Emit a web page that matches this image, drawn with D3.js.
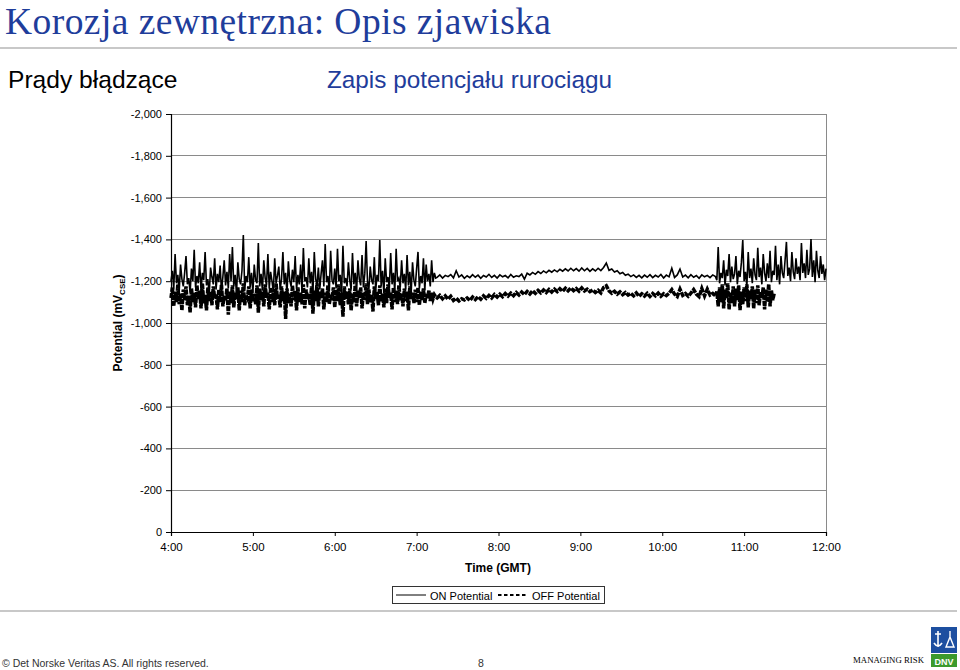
<!DOCTYPE html>
<html><head><meta charset="utf-8">
<script src="https://cdn.jsdelivr.net/npm/d3@7"></script>
<style>
html,body{margin:0;padding:0;background:#fff;}
svg{display:block;}
</style></head>
<body>
<svg id="c" width="960" height="670"></svg>
<script>
// ---------- DATA ----------
const titleText = "Korozja zewnętrzna: Opis zjawiska";
const leftSubtitle = "Prądy błądzące";
const rightSubtitle = "Zapis potencjału rurociągu";
const xTickLabels = ["4:00","5:00","6:00","7:00","8:00","9:00","10:00","11:00","12:00"];
const yTickValues = [0,-200,-400,-600,-800,-1000,-1200,-1400,-1600,-1800,-2000];
const seriesNames = ["ON Potential","OFF Potential"];

// ON potential (mV CSE); minutes after 4:00
const onNoisyAStart = 0, onNoisyAStep = 1;
const onNoisyA = [
-1200,-1250,-1160,-1330,-1190,-1230,-1150,-1280,-1210,-1175,
-1240,-1320,-1185,-1215,-1145,-1260,-1200,-1350,-1170,-1225,
-1190,-1290,-1155,-1240,-1205,-1340,-1180,-1210,-1135,-1265,
-1220,-1185,-1310,-1160,-1235,-1195,-1275,-1150,-1220,-1300,
-1180,-1245,-1165,-1330,-1200,-1364,-1175,-1230,-1140,-1290,
-1210,-1185,-1250,-1421,-1160,-1225,-1195,-1315,-1170,-1240,
-1145,-1280,-1205,-1190,-1383,-1175,-1235,-1155,-1300,-1215,
-1180,-1330,-1165,-1245,-1200,-1150,-1310,-1190,-1225,-1270,
-1160,-1210,-1340,-1185,-1240,-1140,-1295,-1205,-1175,-1255,
-1195,-1320,-1160,-1230,-1185,-1280,-1150,-1359,-1200,-1220,
-1170,-1310,-1190,-1245,-1145,-1340,-1210,-1180,-1265,-1160,
-1235,-1300,-1175,-1378,-1195,-1225,-1150,-1345,-1205,-1185,
-1260,-1165,-1355,-1200,-1230,-1140,-1370,-1190,-1215,-1175,
-1290,-1205,-1160,-1335,-1185,-1240,-1150,-1300,-1210,-1180,
-1325,-1170,-1235,-1392,-1195,-1160,-1270,-1205,-1185,-1315,
-1155,-1230,-1200,-1397,-1175,-1250,-1140,-1310,-1195,-1220,
-1165,-1335,-1185,-1240,-1150,-1355,-1200,-1215,-1170,-1300,
-1190,-1235,-1160,-1325,-1180,-1245,-1145,-1290,-1205,-1175,
-1260,-1340,-1165,-1225,-1190,-1310,-1155,-1280,-1200,-1235,
-1175,-1300,-1195,-1240,-1215
];
const onSteadyStart = 195, onSteadyStep = 2;
const onSteady = [
-1218,-1230,-1215,-1228,-1222,-1232,-1216,-1250,-1220,-1230,-1214,
-1226,-1217,-1231,-1219,-1229,-1214,-1227,-1220,-1233,-1218,-1228,-1215,-1230,-1221,-1227,-1216,-1232,-1219,-1226,-1222,
-1234,-1210,-1238,-1230,-1242,-1233,-1246,-1237,-1249,-1240,-1252,-1243,-1254,-1245,-1257,-1248,-1259,-1249,-1262,-1250,
-1260,-1248,-1263,-1250,-1261,-1247,-1259,-1249,-1262,-1251,-1266,-1287,-1252,-1258,-1244,-1250,-1236,-1242,-1228,-1234,
-1222,-1230,-1218,-1228,-1216,-1229,-1219,-1231,-1217,-1228,-1220,-1232,-1215,-1229,-1221,-1262,-1218,-1230,-1258,-1220,
-1229,-1216,-1231,-1219,-1227,-1214,-1230,-1221,-1228,-1217,-1230,-1222
];
const onNoisyBStart = 400, onNoisyBStep = 1;
const onNoisyB = [
-1205,-1364,-1190,-1240,-1215,-1300,-1180,-1255,-1225,-1330,
-1195,-1270,-1210,-1235,-1320,-1185,-1250,-1220,-1290,-1397,
-1200,-1245,-1175,-1340,-1215,-1260,-1190,-1310,-1230,-1205,
-1360,-1220,-1265,-1185,-1330,-1240,-1200,-1285,-1215,-1345,
-1195,-1250,-1230,-1370,-1205,-1280,-1185,-1320,-1240,-1215,
-1300,-1388,-1225,-1265,-1200,-1340,-1245,-1210,-1310,-1235,
-1270,-1205,-1383,-1240,-1285,-1215,-1350,-1230,-1260,-1402,
-1220,-1300,-1195,-1345,-1250,-1215,-1320,-1235,-1280,-1205,-1260
];

// OFF potential (mV CSE); minutes after 4:00
const offNoisyAStart = 0, offNoisyAStep = 1;
const offNoisyA = [
-1120,-1170,-1080,-1150,-1100,-1185,-1090,-1140,-1060,-1160,
-1110,-1175,-1085,-1130,-1050,-1165,-1100,-1145,-1075,-1180,
-1115,-1155,-1070,-1190,-1095,-1135,-1060,-1170,-1105,-1150,
-1085,-1175,-1120,-1140,-1065,-1160,-1100,-1185,-1080,-1130,
-1110,-1165,-1040,-1150,-1095,-1180,-1075,-1145,-1115,-1170,
-1060,-1155,-1100,-1190,-1085,-1135,-1120,-1175,-1070,-1160,
-1105,-1140,-1090,-1180,-1050,-1165,-1110,-1150,-1080,-1185,
-1120,-1145,-1065,-1170,-1100,-1160,-1085,-1190,-1115,-1135,
-1075,-1175,-1105,-1150,-1020,-1165,-1095,-1140,-1080,-1180,
-1110,-1155,-1060,-1170,-1100,-1145,-1090,-1185,-1070,-1160,
-1115,-1140,-1085,-1175,-1045,-1155,-1105,-1190,-1080,-1150,
-1120,-1165,-1065,-1145,-1100,-1180,-1090,-1135,-1110,-1170,
-1075,-1160,-1105,-1185,-1085,-1145,-1030,-1175,-1115,-1150,
-1090,-1165,-1060,-1140,-1100,-1180,-1080,-1155,-1120,-1170,
-1070,-1145,-1110,-1190,-1090,-1160,-1100,-1135,-1055,-1175,
-1115,-1150,-1085,-1180,-1105,-1140,-1075,-1165,-1095,-1185,
-1120,-1145,-1065,-1170,-1100,-1155,-1090,-1180,-1110,-1140,
-1080,-1165,-1105,-1150,-1060,-1175,-1115,-1145,-1095,-1160,
-1100,-1170,-1085,-1150,-1110,-1165,-1095,-1140,-1120,-1155,
-1105,-1145,-1115,-1135,-1125
];
const offSteadyStart = 195, offSteadyStep = 2;
const offSteady = [
-1120,-1132,-1116,-1130,-1114,-1128,-1108,-1118,-1106,-1116,-1110,
-1120,-1108,-1124,-1112,-1126,-1114,-1130,-1118,-1132,-1120,-1136,-1124,-1138,-1126,-1141,-1129,-1143,-1131,-1146,-1134,
-1148,-1136,-1151,-1139,-1154,-1142,-1156,-1144,-1158,-1146,-1160,-1148,-1162,-1150,-1164,-1152,-1166,-1154,-1167,-1155,
-1165,-1152,-1168,-1153,-1162,-1150,-1158,-1146,-1156,-1144,-1170,-1178,-1154,-1142,-1152,-1138,-1149,-1136,-1146,-1134,
-1142,-1130,-1144,-1128,-1140,-1129,-1142,-1127,-1141,-1130,-1143,-1128,-1140,-1131,-1142,-1160,-1138,-1127,-1162,-1132,
-1141,-1128,-1143,-1160,-1138,-1126,-1165,-1130,-1162,-1134,-1142,-1130
];
const offNoisyBStart = 400, offNoisyBStep = 1;
const offNoisyB = [
-1150,-1080,-1170,-1100,-1185,-1070,-1160,-1120,-1190,-1065,
-1145,-1095,-1175,-1080,-1165,-1110,-1180,-1062,-1150,-1090,
-1170,-1105,-1185,-1075,-1155,-1115,-1175,-1070,-1160,-1095,
-1180,-1085,-1150,-1120,-1170,-1065,-1160,-1100,-1185,-1080,
-1155,-1110,-1140
];

// ---------- BUILD ----------
function seg(start, step, vals){ return vals.map((v,i)=>({t:start+i*step, v:v})); }
const onData = [].concat(seg(onNoisyAStart,onNoisyAStep,onNoisyA), seg(onSteadyStart,onSteadyStep,onSteady), seg(onNoisyBStart,onNoisyBStep,onNoisyB));
const offData = [].concat(seg(offNoisyAStart,offNoisyAStep,offNoisyA), seg(offSteadyStart,offSteadyStep,offSteady), seg(offNoisyBStart,offNoisyBStep,offNoisyB));

const svg = d3.select("#c");
const L=171, R=826, T=114, B=532;
const x = d3.scaleLinear().domain([0,480]).range([L,R]);
const y = d3.scaleLinear().domain([0,-2000]).range([B,T]);
const sans = "'Liberation Sans', Arial, sans-serif";
const serif = "'Liberation Serif', 'Times New Roman', serif";

// title
svg.append("text").attr("x",5).attr("y",34).attr("font-family",serif).attr("font-size",37.5)
  .attr("textLength",546).attr("lengthAdjust","spacing")
  .attr("fill","#1f3d9b").text(titleText);
svg.append("rect").attr("x",0).attr("y",47).attr("width",957).attr("height",2).attr("fill","#c8c8c8");
svg.append("text").attr("x",8).attr("y",88).attr("font-family",sans).attr("font-size",24.6)
  .attr("fill","#000").text(leftSubtitle);
svg.append("text").attr("x",327).attr("y",88).attr("font-family",sans).attr("font-size",24.3)
  .attr("fill","#1f3d9b").text(rightSubtitle);

// grid
const g = svg.append("g");
g.selectAll("line.grid").data(yTickValues.filter(d=>d!==0)).join("line")
  .attr("x1",L).attr("x2",R).attr("y1",d=>y(d)).attr("y2",d=>y(d))
  .attr("stroke","#8a8a8a").attr("stroke-width",1).attr("shape-rendering","crispEdges");
g.append("line").attr("x1",R).attr("x2",R).attr("y1",T).attr("y2",B)
  .attr("stroke","#8a8a8a").attr("stroke-width",1).attr("shape-rendering","crispEdges");

// lines
const line = d3.line().x(d=>x(d.t)).y(d=>y(d.v));
g.append("path").datum(offData).attr("d",line).attr("fill","none").attr("stroke","#000")
  .attr("stroke-width",3.5).attr("stroke-dasharray","5,1");
g.append("path").datum(onData).attr("d",line).attr("fill","none").attr("stroke","#000")
  .attr("stroke-width",1.6);

// axes
const fmt = d => d3.format(",")(d).replace("\u2212","-");
const yAxis = g.append("g").attr("transform",`translate(${L},0)`)
  .call(d3.axisLeft(y).tickValues(yTickValues).tickFormat(fmt).tickSize(5).tickPadding(4));
const xAxis = g.append("g").attr("transform",`translate(0,${B})`)
  .call(d3.axisBottom(x).tickValues(d3.range(0,481,60)).tickFormat((d,i)=>xTickLabels[i]).tickSize(4).tickPadding(7));
[yAxis,xAxis].forEach(a=>{
  a.select(".domain").attr("stroke","#000").attr("stroke-width",1.2);
  a.selectAll(".tick line").attr("stroke","#000");
  a.selectAll("text").attr("font-family",sans).attr("font-size",11).attr("fill","#000");
});
xAxis.selectAll("text").attr("font-size",11.5);

// axis titles
const yl = svg.append("text").attr("transform","translate(122,323) rotate(-90)")
  .attr("text-anchor","middle").attr("font-family",sans).attr("font-weight","bold").attr("font-size",12);
yl.append("tspan").text("Potential (mV");
yl.append("tspan").attr("font-size",8).attr("dy",3).text("CSE");
yl.append("tspan").attr("dy",-3).text(")");
svg.append("text").attr("x",498).attr("y",572).attr("text-anchor","middle").attr("font-family",sans)
  .attr("font-weight","bold").attr("font-size",12).text("Time (GMT)");

// legend
const lg = svg.append("g");
lg.append("rect").attr("x",392.5).attr("y",586.5).attr("width",212).attr("height",17)
  .attr("fill","#fff").attr("stroke","#333").attr("stroke-width",1);
lg.append("line").attr("x1",396).attr("x2",426).attr("y1",595).attr("y2",595).attr("stroke","#000").attr("stroke-width",1);
lg.append("text").attr("x",430).attr("y",599.5).attr("font-family",sans).attr("font-size",11).text(seriesNames[0]);
lg.append("line").attr("x1",498).attr("x2",528).attr("y1",595).attr("y2",595).attr("stroke","#000")
  .attr("stroke-width",2).attr("stroke-dasharray","3.5,2.5");
lg.append("text").attr("x",532).attr("y",599.5).attr("font-family",sans).attr("font-size",11).text(seriesNames[1]);

// footer
svg.append("rect").attr("x",0).attr("y",610).attr("width",957).attr("height",2).attr("fill","#c8c8c8");
svg.append("text").attr("x",2).attr("y",667).attr("font-family",sans).attr("font-size",10.5).attr("fill","#333")
  .text("© Det Norske Veritas AS. All rights reserved.");
svg.append("text").attr("x",478).attr("y",667).attr("font-family",sans).attr("font-size",10.5).attr("fill","#333").text("8");
svg.append("text").attr("x",853).attr("y",663).attr("font-family",serif).attr("font-size",9)
  .attr("textLength",71).attr("lengthAdjust","spacingAndGlyphs").attr("fill","#000")
  .text("MANAGING RISK");
// DNV logo
const lo = svg.append("g");
lo.append("rect").attr("x",931).attr("y",627).attr("width",26).attr("height",26).attr("fill","#1d4fa0");
lo.append("rect").attr("x",931).attr("y",654).attr("width",26).attr("height",13).attr("fill","#3c9a2c");
lo.append("text").attr("x",944).attr("y",664.5).attr("text-anchor","middle").attr("font-family",sans)
  .attr("font-weight","bold").attr("font-size",9).attr("fill","#fff").text("DNV");
lo.append("path").attr("d","M938,631 v16 M935,634 h6 M934,643 q4,6 8,0")
  .attr("stroke","#fff").attr("stroke-width",1.6).attr("fill","none");
lo.append("path").attr("d","M950,631 v6 M946,647 l4,-10 l4,10 z")
  .attr("stroke","#fff").attr("stroke-width",1.4).attr("fill","none");
</script>
</body></html>
